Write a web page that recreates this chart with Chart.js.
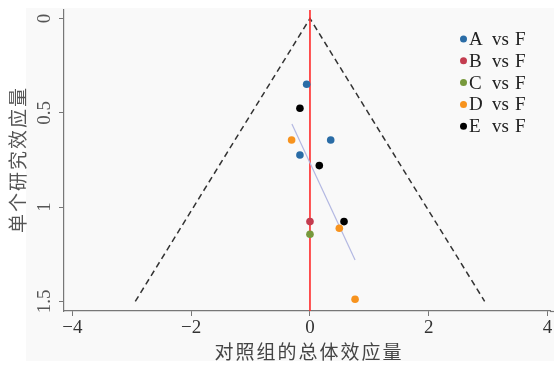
<!DOCTYPE html>
<html>
<head>
<meta charset="utf-8">
<script src="https://cdn.jsdelivr.net/npm/chart.js@4"></script>
<style>
  html, body { margin: 0; padding: 0; background: #fff; }
  #wrap { width: 554px; height: 365px; }
</style>
</head>
<body>
<div id="wrap"><canvas id="funnel" width="554" height="365"></canvas></div>
<script>
// 刻度
const xTicks = [-4, -2, 0, 2, 4];
const yTicks = [0, 0.5, 1, 1.5];

// 各比较组（x：效应量，y：标准误）
const groupNames = ["A vs F", "B vs F", "C vs F", "D vs F", "E vs F"];
const groupColors = ["#2a6ca6", "#c33c4f", "#77993c", "#f7931e", "#000000"];
const aX = [-0.056, 0.349, -0.169];
const aY = [0.349, 0.644, 0.724];
const bX = [0];
const bY = [1.077];
const cX = [0];
const cY = [1.144];
const dX = [-0.309, 0.494, 0.759];
const dY = [0.644, 1.112, 1.489];
const eX = [-0.169, 0.157, 0.573];
const eY = [0.476, 0.780, 1.077];

// 漏斗线、合并效应线、回归线
const funnelX = [-2.94, 0, 2.94];
const funnelY = [1.5, 0, 1.5];
const pooledX = [0, 0];
const pooledY = [-0.05, 1.56];
const regX = [-0.304, 0.759];
const regY = [0.559, 1.281];

function pts(xs, ys) {
    return xs.map(function (x, i) { return { x: x, y: ys[i] }; });
}

const groupData = [pts(aX, aY), pts(bX, bY), pts(cX, cY), pts(dX, dY), pts(eX, eY)];

let datasets = [];
groupData.forEach(function (d, i) {
    datasets.push({
        label: groupNames[i],
        data: d,
        backgroundColor: groupColors[i],
        borderWidth: 0,
        pointRadius: 3.8,
        showLine: false
    });
});
datasets.push({
    data: pts(regX, regY), showLine: true, pointRadius: 0,
    borderColor: "#b3b8e2", borderWidth: 1.2
});
datasets.push({
    data: pts(pooledX, pooledY), showLine: true, pointRadius: 0,
    borderColor: "#ff2a2a", borderWidth: 1.6
});
datasets.push({
    data: pts(funnelX, funnelY), showLine: true, pointRadius: 0,
    borderColor: "#333333", borderWidth: 1.5, borderDash: [6, 4]
});

// 背景、y轴刻度文字、轴标题、图例
const decor = {
    id: "decor",
    beforeDraw(chart) {
        const ctx = chart.ctx;
        ctx.save();
        ctx.fillStyle = "#ffffff";
        ctx.fillRect(0, 0, chart.width, chart.height);
        ctx.fillStyle = "#f9f9f9";
        ctx.fillRect(26, 8, chart.width - 26, 353);
        ctx.restore();
    },
    afterDraw(chart) {
        const ctx = chart.ctx;
        const ys = chart.scales.y;
        const area = chart.chartArea;
        ctx.save();
        // x轴线延长到右边缘
        ctx.strokeStyle = "#777";
        ctx.lineWidth = 1.2;
        ctx.beginPath();
        ctx.moveTo(area.right, area.bottom + 0.5);
        ctx.lineTo(chart.width, area.bottom + 0.5);
        ctx.stroke();
        // y刻度（旋转）
        ctx.font = "19px 'Liberation Serif'";
        ctx.fillStyle = "#555";
        ctx.textAlign = "center";
        ctx.textBaseline = "middle";
        yTicks.forEach(function (v) {
            ctx.save();
            ctx.translate(45, ys.getPixelForValue(v));
            ctx.rotate(-Math.PI / 2);
            ctx.fillText(String(v), 0, 0);
            ctx.restore();
        });
        // y轴标题
        const yTitle = "单个研究效应量";
        ctx.font = "19px 'Noto Sans CJK SC'";
        ctx.fillStyle = "#555";
        const step = 21;
        ctx.save();
        ctx.translate(18, (area.top + area.bottom) / 2);
        ctx.rotate(-Math.PI / 2);
        for (let i = 0; i < yTitle.length; i++) {
            ctx.fillText(yTitle[i], (i - (yTitle.length - 1) / 2) * step, 0);
        }
        ctx.restore();
        // x轴标题
        const xTitle = "对照组的总体效应量";
        ctx.fillStyle = "#444";
        const cx = chart.scales.x.getPixelForValue(0) - 2;
        for (let i = 0; i < xTitle.length; i++) {
            ctx.fillText(xTitle[i], cx + (i - (xTitle.length - 1) / 2) * step, 352);
        }
        // 图例
        ctx.font = "19px 'Liberation Serif'";
        ctx.textAlign = "left";
        groupNames.forEach(function (name, i) {
            const y = 39 + i * 21.8;
            ctx.fillStyle = groupColors[i];
            ctx.beginPath();
            ctx.arc(463.5, y, 3.5, 0, Math.PI * 2);
            ctx.fill();
            const parts = name.split(" ");
            ctx.fillStyle = "#222";
            ctx.fillText(parts[0], 469, y + 1);
            ctx.fillText(parts[1], 492, y + 1);
            ctx.fillText(parts[2], 515, y + 1);
        });
        ctx.restore();
    }
};

new Chart(document.getElementById("funnel"), {
    type: "scatter",
    data: { datasets: datasets },
    options: {
        responsive: false,
        animation: false,
        devicePixelRatio: 1,
        layout: { padding: { top: 10, left: 0, right: 0, bottom: 0 } },
        plugins: { legend: { display: false }, tooltip: { enabled: false } },
        scales: {
            x: {
                type: "linear",
                min: -4.14,
                max: 4.04,
                afterBuildTicks: function (scale) {
                    scale.ticks = xTicks.map(function (v) { return { value: v }; });
                },
                afterFit: function (scale) { scale.height = 54; },
                grid: { display: true, drawOnChartArea: false, drawTicks: true, tickLength: 5, color: "#777" },
                border: { display: true, color: "#777", width: 1.2 },
                ticks: {
                    font: { family: "Liberation Serif", size: 19 },
                    color: "#333",
                    padding: 1,
                    maxRotation: 0,
                    callback: function (v) { return v < 0 ? "\u2212" + Math.abs(v) : String(v); }
                }
            },
            y: {
                type: "linear",
                reverse: true,
                min: -0.045,
                max: 1.551,
                afterBuildTicks: function (scale) {
                    scale.ticks = yTicks.map(function (v) { return { value: v }; });
                },
                afterFit: function (scale) { scale.width = 64; },
                grid: { display: true, drawOnChartArea: false, drawTicks: true, tickLength: 5, color: "#777" },
                border: { display: true, color: "#777", width: 1.2 },
                ticks: { display: false }
            }
        }
    },
    plugins: [decor]
});
</script>
</body>
</html>
